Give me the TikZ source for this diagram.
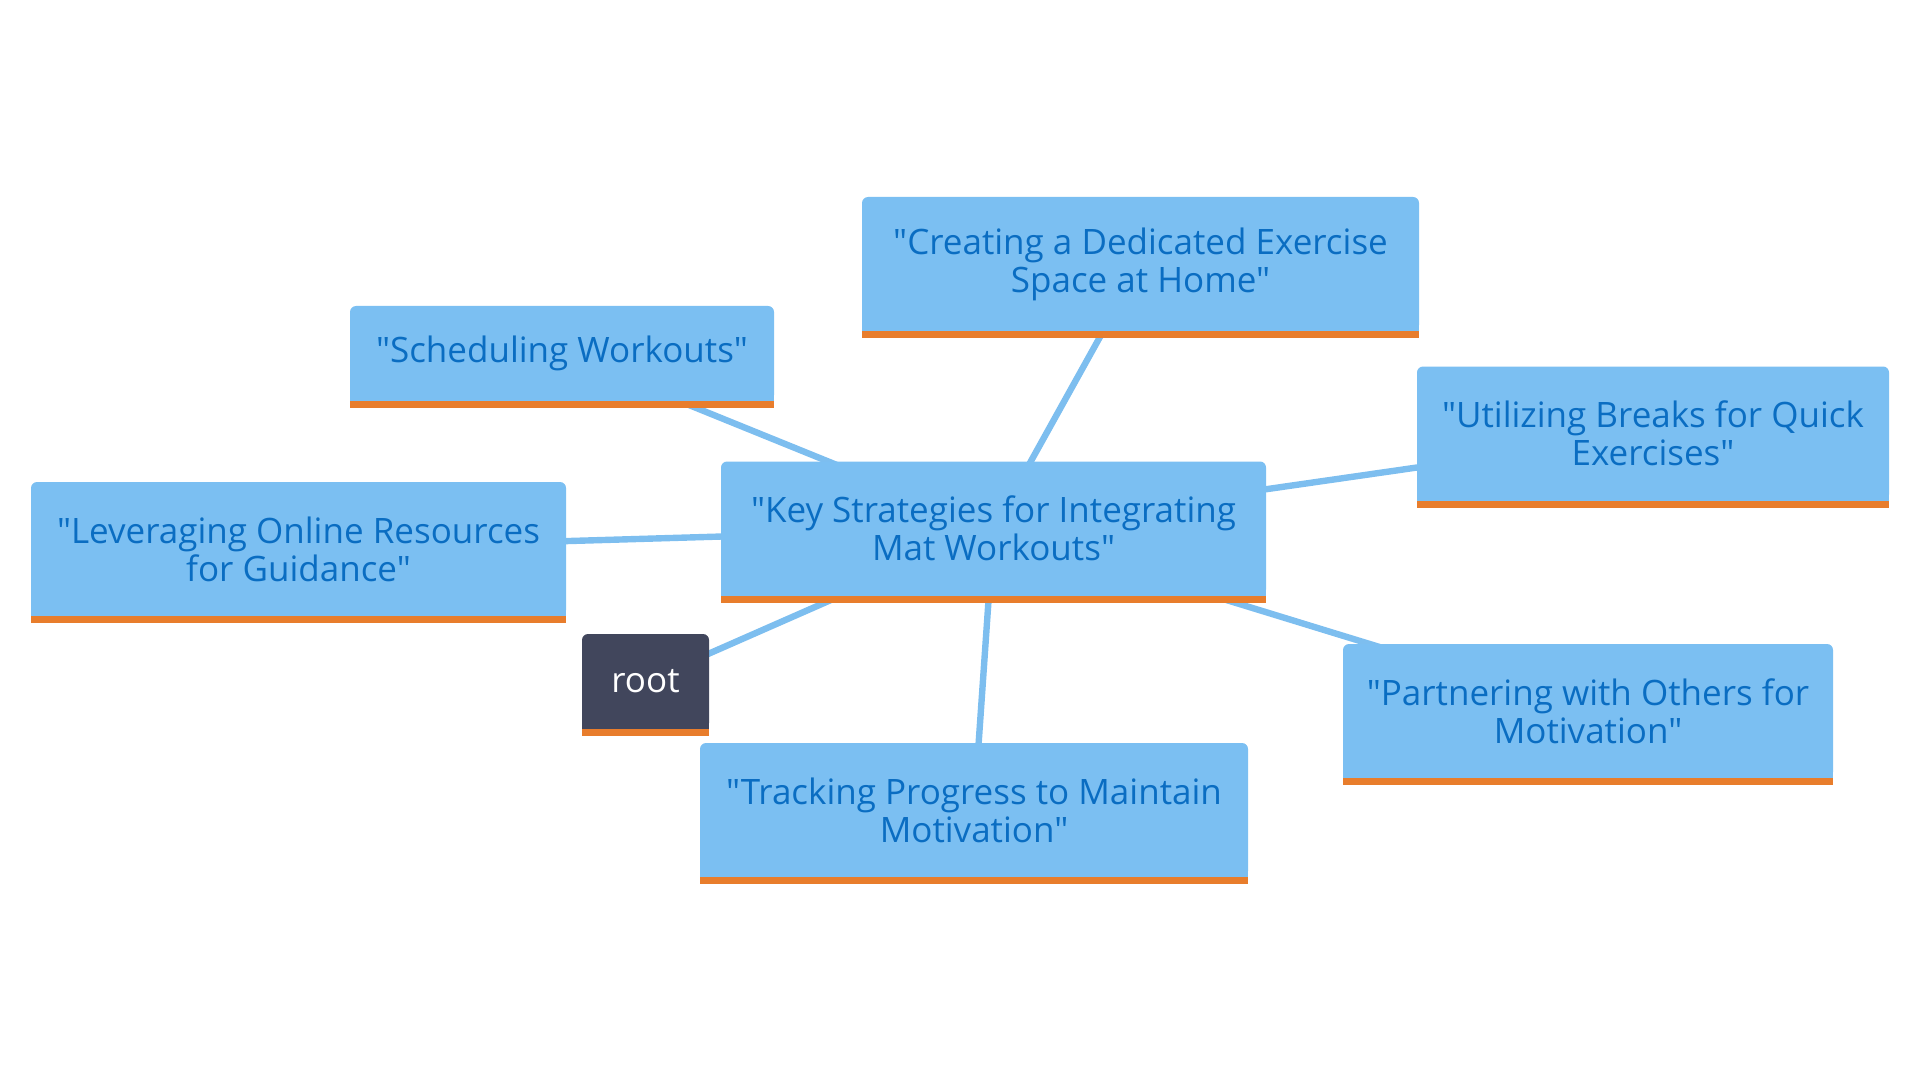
\documentclass[tikz,border=0pt]{standalone}
\usepackage{fontspec}
\setmainfont{Open Sans}[Ligatures=TeXOff]
\usetikzlibrary{backgrounds}
\definecolor{boxblue}{HTML}{7BBFF2}
\definecolor{txtblue}{HTML}{0A6DC2}
\definecolor{edgeblue}{HTML}{7DBEEF}
\definecolor{barorange}{HTML}{E87D2C}
\definecolor{rootdark}{HTML}{41465C}
\tikzset{
  leaf/.style={fill=boxblue, text=txtblue, rounded corners=3pt, inner sep=0pt, outer sep=0pt,
    align=center, font=\fontsize{17.5}{19}\selectfont, minimum height=67pt},
  one/.style={minimum height=47.5pt},
  rootbox/.style={fill=rootdark, text=white, rounded corners=3pt, inner sep=0pt, outer sep=0pt,
    align=center, font=\fontsize{17.5}{19}\selectfont, minimum height=47.5pt},
  edge/.style={draw=edgeblue, line width=3.2pt}
}
\begin{document}
\begin{tikzpicture}[x=0.5pt,y=-0.5pt]
\useasboundingbox (0,0) rectangle (1920,1080);
\node[leaf, minimum width=272.5pt] (center) at (993.5,528.5) {"Key Strategies for Integrating\\Mat Workouts"};
\node[leaf, minimum width=278.5pt] (creating) at (1140.5,264) {"Creating a Dedicated Exercise\\Space at Home"};
\node[leaf, one, minimum width=212pt] (sched) at (562,353.5) {"Scheduling Workouts"};
\node[leaf, minimum width=236pt] (util) at (1653,433.5) {"Utilizing Breaks for Quick\\Exercises"};
\node[leaf, minimum width=267.5pt] (lever) at (298.5,549) {"Leveraging Online Resources\\for Guidance"};
\node[rootbox, minimum width=63.5pt] (root) at (645.5,681.5) {root};
\node[leaf, minimum width=274pt] (track) at (974,810) {"Tracking Progress to Maintain\\Motivation"};
\node[leaf, minimum width=245pt] (partner) at (1588,711) {"Partnering with Others for\\Motivation"};
\foreach \n/\c in {center/boxblue,creating/boxblue,sched/boxblue,util/boxblue,lever/boxblue,root/rootdark,track/boxblue,partner/boxblue}{
  \fill[\c] (\n.south west) rectangle ([yshift=6pt]\n.south east);
  \fill[barorange] (\n.south west) rectangle ([yshift=-3.5pt]\n.south east);
}
\begin{scope}[on background layer]
\foreach \n in {creating,sched,util,lever,root,track,partner}{
  \draw[edge] (center.center) -- (\n.center);
}
\end{scope}
\end{tikzpicture}
\end{document}
